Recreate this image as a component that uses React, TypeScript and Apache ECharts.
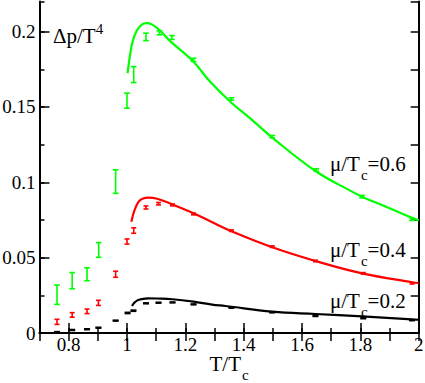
import React, { useEffect, useRef } from "react";
import * as echarts from "echarts";

const FONT = "'Liberation Serif', Tinos, 'Times New Roman', Times, 'DejaVu Serif', serif";

// Lattice data points: [T/Tc, Δp/T^4, error]
const greenPoints: number[][] = [
  [0.760, 0.0254, 0.0064], [0.812, 0.0347, 0.0054], [0.863, 0.0390, 0.0043],
  [0.903, 0.0551, 0.0049], [0.961, 0.1005, 0.0078], [1.000, 0.1542, 0.0050],
  [1.023, 0.1715, 0.0053], [1.065, 0.1965, 0.0025], [1.111, 0.1992, 0.0013],
  [1.154, 0.1961, 0.0013], [1.228, 0.1813, 0.0010], [1.358, 0.1553, 0.0008],
  [1.498, 0.1303, 0.0008], [1.649, 0.1082, 0.0008], [1.806, 0.0905, 0.0008],
  [1.977, 0.0755, 0.0008],
];
const redPoints: number[][] = [
  [0.760, 0.0074, 0.0017], [0.812, 0.0120, 0.0015], [0.863, 0.0144, 0.0015],
  [0.902, 0.0200, 0.0017], [0.961, 0.0390, 0.0020], [1.000, 0.0607, 0.0017],
  [1.023, 0.0680, 0.0018], [1.065, 0.0833, 0.0010], [1.108, 0.0858, 0.0008],
  [1.156, 0.0850, 0.0006], [1.228, 0.0790, 0.0006], [1.358, 0.0679, 0.0005],
  [1.498, 0.0573, 0.0005], [1.646, 0.0478, 0.0005], [1.810, 0.0396, 0.0005],
  [1.977, 0.0330, 0.0005],
];
const blackPoints: number[][] = [
  [0.760, 0.0006, 0.0003], [0.812, 0.0020, 0.0003], [0.863, 0.0025, 0.0003],
  [0.902, 0.0035, 0.0003], [0.961, 0.0082, 0.0003], [1.002, 0.0133, 0.0004],
  [1.022, 0.0148, 0.0004], [1.065, 0.0197, 0.0003], [1.108, 0.0201, 0.0003],
  [1.156, 0.0203, 0.0003], [1.228, 0.0190, 0.0003], [1.358, 0.0168, 0.0003],
  [1.498, 0.0137, 0.0003], [1.646, 0.0113, 0.0003], [1.810, 0.0098, 0.0003],
  [1.977, 0.0085, 0.0003],
];

// Model curves: [T/Tc, Δp/T^4]
const greenCurve: number[][] = [
  [1.002, 0.1724], [1.010, 0.1840], [1.020, 0.1940], [1.035, 0.2012],
  [1.050, 0.2045], [1.065, 0.2056], [1.085, 0.2048], [1.114, 0.2005],
  [1.149, 0.1935], [1.228, 0.1800], [1.286, 0.1665], [1.357, 0.1530],
  [1.434, 0.1405], [1.499, 0.1295], [1.646, 0.1075], [1.760, 0.0950],
  [1.806, 0.0905], [1.900, 0.0828], [1.977, 0.0765], [2.000, 0.0748],
];
const redCurve: number[][] = [
  [1.015, 0.0739], [1.025, 0.0810], [1.040, 0.0872], [1.055, 0.0892],
  [1.074, 0.0898], [1.100, 0.0893], [1.160, 0.0850], [1.228, 0.0795],
  [1.292, 0.0735], [1.361, 0.0673], [1.498, 0.0569], [1.646, 0.0478],
  [1.806, 0.0396], [1.977, 0.0337], [2.000, 0.0332],
];
const blackCurve: number[][] = [
  [1.017, 0.0179], [1.025, 0.0200], [1.034, 0.0215], [1.050, 0.0225],
  [1.074, 0.0230], [1.100, 0.0229], [1.156, 0.0224], [1.228, 0.0208],
  [1.292, 0.0188], [1.337, 0.0179], [1.498, 0.0142], [1.646, 0.0126],
  [1.806, 0.0110], [1.977, 0.0091], [2.000, 0.0088],
];

const GREEN = "#00ff00";
const RED = "#ff0000";
const BLACK = "#000000";

function errorBarRenderer(color: string, hw: number) {
  return (params: any, api: any) => {
    const x = api.value(0);
    const y = api.value(1);
    const e = api.value(2);
    const top = api.coord([x, y + e]);
    const bot = api.coord([x, y - e]);
    const style = { stroke: color, lineWidth: 1.6 };
    return {
      type: "group",
      children: [
        { type: "line", shape: { x1: top[0], y1: top[1], x2: bot[0], y2: bot[1] }, style },
        { type: "line", shape: { x1: top[0] - hw, y1: top[1], x2: top[0] + hw, y2: top[1] }, style },
        { type: "line", shape: { x1: bot[0] - hw, y1: bot[1], x2: bot[0] + hw, y2: bot[1] }, style },
      ],
    };
  };
}

// main text on top of the line box, subscript pushed down with padding
const subRich = (color: string) => ({
  m: { fontSize: 21, fontFamily: FONT, color, lineHeight: 22, verticalAlign: "top" },
  c: { fontSize: 15, fontFamily: FONT, color, lineHeight: 15, verticalAlign: "top", padding: [14, 0, 0, 1] },
});

function muLabel(left: number, top: number, value: string) {
  return {
    type: "text",
    left,
    top,
    style: {
      text: "{m|μ/T}{c|c}{m|=" + value + "}",
      fill: "#000",
      rich: subRich("#000"),
    },
  };
}

export default function App() {
  const ref = useRef<HTMLDivElement>(null);
  useEffect(() => {
    document.body.style.margin = "0";
    const chart = echarts.init(ref.current!, null, { renderer: "svg" });
    const axisLineStyle = { color: "#000", width: 2 };
    const tickStyle = { color: "#000", width: 1.5 };
    const baseX = { type: "value", min: 0.7, max: 2, gridIndex: 0, splitLine: { show: false } };
    const baseY = { type: "value", min: 0, max: 0.22, gridIndex: 0, splitLine: { show: false } };
    chart.setOption({
      animation: false,
      backgroundColor: "#fff",
      textStyle: { fontFamily: FONT },
      grid: { left: 39.5, right: 6.3, top: 1.5, bottom: 50, containLabel: false, outerBoundsMode: "none" },
      xAxis: [
        {
          ...baseX,
          position: "bottom",
          interval: 0.1,
          axisLine: { show: true, lineStyle: axisLineStyle },
          axisTick: { show: true, inside: true, length: 5, lineStyle: tickStyle },
          axisLabel: { show: false },
          name: "{m|T/T}{c|c}",
          nameLocation: "middle",
          nameGap: 20,
          nameTextStyle: { rich: subRich("#000") },
        },
        {
          // major ticks and labels: mirrored axis so ticks count from 2.0 downward
          type: "value",
          gridIndex: 0,
          min: -2,
          max: -0.7,
          inverse: true,
          interval: 0.2,
          position: "bottom",
          splitLine: { show: false },
          axisLine: { show: false },
          axisTick: { show: true, inside: true, length: 10, lineStyle: tickStyle },
          axisLabel: {
            showMaxLabel: false,
            showMinLabel: true,
            color: "#000",
            fontSize: 19,
            lineHeight: 16,
            fontFamily: FONT,
            margin: 3,
            formatter: (v: number) => String(Math.round(-v * 10) / 10),
          },
        },
        {
          ...baseX,
          position: "top",
          interval: 0.1,
          axisLine: { show: true, lineStyle: axisLineStyle },
          axisTick: { show: true, inside: true, length: 8, lineStyle: tickStyle },
          axisLabel: { show: false },
        },
      ],
      yAxis: [
        {
          ...baseY,
          position: "left",
          interval: 0.05,
          axisLine: { show: true, lineStyle: axisLineStyle },
          axisTick: { show: true, inside: true, length: 10, lineStyle: tickStyle },
          axisLabel: { showMaxLabel: false, color: "#000", fontSize: 19, fontFamily: FONT, margin: 4 },
        },
        {
          ...baseY,
          position: "left",
          interval: 0.025,
          axisLine: { show: false },
          axisTick: { show: true, inside: true, length: 5, lineStyle: tickStyle },
          axisLabel: { show: false },
        },
        {
          ...baseY,
          position: "right",
          interval: 0.025,
          axisLine: { show: true, lineStyle: axisLineStyle },
          axisTick: { show: true, inside: true, length: 8, lineStyle: tickStyle },
          axisLabel: { show: false },
        },
      ],
      series: [
        { name: "μ/Tc=0.6 model", type: "line", data: greenCurve, smooth: 0.4, showSymbol: false, lineStyle: { color: GREEN, width: 2.2 }, xAxisIndex: 0, yAxisIndex: 0 },
        { name: "μ/Tc=0.4 model", type: "line", data: redCurve, smooth: 0.4, showSymbol: false, lineStyle: { color: RED, width: 2.2 }, xAxisIndex: 0, yAxisIndex: 0 },
        { name: "μ/Tc=0.2 model", type: "line", data: blackCurve, smooth: 0.4, showSymbol: false, lineStyle: { color: BLACK, width: 2.2 }, xAxisIndex: 0, yAxisIndex: 0 },
        { name: "μ/Tc=0.6 lattice", type: "custom", data: greenPoints, renderItem: errorBarRenderer(GREEN, 2.8), encode: { x: 0, y: 1 }, xAxisIndex: 0, yAxisIndex: 0 },
        { name: "μ/Tc=0.4 lattice", type: "custom", data: redPoints, renderItem: errorBarRenderer(RED, 2.5), encode: { x: 0, y: 1 }, xAxisIndex: 0, yAxisIndex: 0 },
        { name: "μ/Tc=0.2 lattice", type: "custom", data: blackPoints, renderItem: errorBarRenderer(BLACK, 3), encode: { x: 0, y: 1 }, xAxisIndex: 0, yAxisIndex: 0 },
      ],
      graphic: [
        {
          type: "text",
          left: 53,
          top: 21,
          style: {
            text: "{m|Δp/T}{s|4}",
            fill: "#000",
            rich: {
              m: { fontSize: 21, fontFamily: FONT, lineHeight: 30, verticalAlign: "middle" },
              s: { fontSize: 15, fontFamily: FONT, lineHeight: 15, verticalAlign: "top" },
            },
          },
        },
        muLabel(330, 153, "0.6"),
        muLabel(330, 239, "0.4"),
        muLabel(330, 290, "0.2"),
      ],
    });
    return () => chart.dispose();
  }, []);
  return <div ref={ref} style={{ width: 425, height: 383 }} />;
}
